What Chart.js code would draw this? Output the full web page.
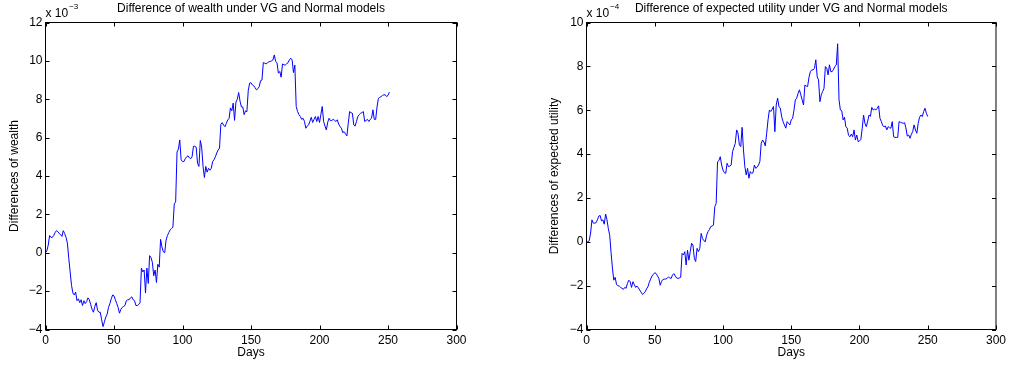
<!DOCTYPE html>
<html>
<head>
<meta charset="utf-8">
<script src="https://cdn.jsdelivr.net/npm/chart.js@4.4.1/dist/chart.umd.min.js"></script>
<style>
  body { margin: 0; background: #fff; }
  #wrap { position: relative; width: 1010px; height: 365px; }
  .pane { position: absolute; top: 0; width: 505px; height: 365px; }
</style>
</head>
<body>
<div id="wrap">
  <div class="pane" style="left:0"><canvas id="wealthChart" width="505" height="365"></canvas></div>
  <div class="pane" style="left:505px"><canvas id="utilityChart" width="505" height="365"></canvas></div>
</div>
<script>
// values, in units of the axis multiplier (x 10^-3 and x 10^-4)
const wealthDiff = [
  0, 0.1, 0.4, 0.9, 0.8, 0.8, 0.9, 1.05, 1.15, 1.1,
  1.0, 0.95, 0.85, 1.15, 1.0, 0.8, 0.5, -0.3, -1.0, -1.7,
  -2.1, -2.2, -2.05, -2.5, -2.4, -2.6, -2.45, -2.75, -2.5, -2.65,
  -2.55, -2.35, -2.45, -2.7, -2.95, -3.1, -2.8, -2.6, -3.0, -3.1,
  -3.1, -3.5, -3.85, -3.6, -3.35, -3.2, -2.85, -2.65, -2.4, -2.2,
  -2.25, -2.45, -2.65, -2.85, -3.15, -2.95, -2.85, -2.8, -2.75, -2.5,
  -2.45, -2.45, -2.35, -2.3, -2.45, -2.5, -2.75, -2.75, -2.7, -2.6,
  -0.8, -1.0, -0.9, -2.1, -0.8, -1.6, -0.15, -0.25, -0.5, -1.2,
  -0.9, -1.55, -0.6, -0.75, 0.7, 0.3, 0.05, 0.0, 0.65, 0.9,
  1.05, 1.2, 1.27, 1.33, 2.55, 2.65, 5.25, 5.4, 5.88, 4.85,
  4.75, 4.75, 4.9, 5.0, 5.05, 4.95, 4.9, 5.0, 5.55, 5.55,
  5.5, 4.65, 4.5, 5.85, 5.5, 4.5, 3.92, 4.5, 4.2, 4.4,
  4.3, 4.4, 4.75, 4.85, 5.0, 5.2, 5.35, 5.45, 6.7, 6.78,
  6.65, 6.57, 6.75, 6.92, 7.0, 7.55, 7.4, 7.8, 6.9, 7.85,
  8.0, 8.35, 7.9, 7.6, 7.6, 7.2, 7.4, 7.35, 8.45, 8.84,
  8.86, 8.75, 8.7, 8.6, 8.49, 8.55, 8.66, 8.97, 9.0, 9.91,
  9.88, 9.84, 9.9, 9.95, 9.97, 10.0, 10.05, 10.31, 9.97, 9.9,
  9.36, 9.45, 9.15, 9.84, 9.8, 9.78, 9.85, 9.9, 10.05, 10.14,
  10.05, 9.39, 9.78, 7.62, 7.36, 7.2, 7.1, 6.95, 7.01, 6.85,
  6.49, 6.6, 6.66, 6.85, 7.06, 6.79, 6.95, 7.1, 6.84, 7.1,
  6.79, 7.2, 7.62, 6.84, 6.6, 6.4, 6.8, 7.01, 6.88, 6.9,
  6.95, 6.9, 6.84, 6.93, 6.7, 6.58, 6.49, 6.26, 6.31, 6.2,
  6.09, 6.75, 7.36, 7.3, 7.27, 6.66, 6.6, 6.85, 7.1, 7.2,
  7.27, 7.3, 7.36, 6.84, 6.9, 6.95, 6.84, 6.95, 7.01, 7.45,
  6.95, 6.95, 7.6, 8.05, 8.1, 8.14, 8.2, 8.23, 8.23, 8.14,
  8.2, 8.37
];

const utilityDiff = [
  0, 0, 0.05, 0.4, 1.0, 0.85, 0.85, 0.87, 1.0, 1.17,
  1.2, 0.95, 1.0, 0.8, 1.26, 1.0, 0.6, 0.3, -0.5, -1.2,
  -1.75, -1.62, -1.95, -2.0, -2.02, -2.08, -2.12, -2.17, -2.08, -2.12,
  -1.9, -1.75, -1.82, -2.08, -1.82, -1.95, -2.08, -2.02, -2.1, -2.2,
  -2.3, -2.4, -2.35, -2.28, -2.15, -2.05, -1.85, -1.7, -1.56, -1.48,
  -1.41, -1.45, -1.55, -1.67, -1.98, -1.8, -1.72, -1.7, -1.7, -1.67,
  -1.6, -1.65, -1.67, -1.52, -1.45, -1.55, -1.65, -1.67, -1.65, -1.62,
  -0.53, -0.6, -0.45, -1.06, -0.38, -0.84, -0.45, -0.07, -0.15, -0.75,
  -0.9, -0.3, -0.45, -0.3, 0.38, 0.15, 0.05, 0.0, 0.3, 0.46,
  0.55, 0.69, 0.72, 0.76, 1.6, 1.75, 3.65, 3.7, 3.88, 3.5,
  3.27, 3.15, 3.12, 3.58, 3.43, 3.45, 3.5, 4.11, 4.3, 4.49,
  5.1, 4.95, 4.42, 4.34, 5.22, 4.19, 3.43, 3.05, 3.35, 2.9,
  3.2, 3.12, 3.15, 3.5, 3.35, 3.4, 3.5, 3.65, 4.49, 4.64,
  4.55, 4.37, 4.95, 5.56, 6.01, 5.94, 6.05, 6.17, 5.02, 6.24,
  6.55, 6.17, 6.09, 5.7, 5.48, 5.33, 5.18, 5.48, 5.4, 5.33,
  5.56, 5.63, 6.0, 6.47, 6.55, 6.77, 6.93, 6.7, 6.47, 6.24,
  7.15, 7.1, 7.08, 7.5, 7.76, 7.84, 7.84, 7.9, 8.3, 7.53,
  7.38, 6.39, 6.7, 6.85, 7.0, 7.99, 7.92, 7.61, 8.07, 7.76,
  7.76, 7.86, 8.0, 8.06, 9.03, 6.47, 6.01, 5.98, 5.56, 5.68,
  5.25, 5.18, 4.85, 4.79, 4.91, 4.79, 5.1, 4.64, 4.87, 4.57,
  4.6, 4.67, 5.18, 5.78, 5.4, 5.25, 5.5, 5.78, 5.72, 6.13,
  6.01, 6.05, 6.01, 6.09, 6.2, 5.63, 5.48, 5.3, 5.25, 5.28,
  5.1, 5.25, 5.2, 5.18, 5.48, 4.79, 4.76, 4.76, 4.76, 5.48,
  5.45, 5.43, 5.4, 5.43, 5.2, 4.82, 4.87, 4.72, 4.9, 5.03,
  5.33, 5.1, 4.95, 5.4, 5.68, 5.78, 5.71, 5.94, 6.09, 5.86,
  5.71
];

// axis ranges / tick steps
const dayTicks = { min: 0, max: 300, step: 50 };
const wealthTicks = { min: -4, max: 12, step: 2 };
const utilityTicks = { min: -4, max: 10, step: 2 };

const FONT = '"Liberation Sans", Arial, Helvetica, sans-serif';

// matlab look: black box, inward ticks on all four sides, title and the "x 10^n" multiplier
const matlabFrame = {
  id: 'matlabFrame',
  afterDraw(chart, args, opts) {
    const { ctx, chartArea: a, scales: { x, y } } = chart;
    ctx.save();
    ctx.strokeStyle = '#000';
    ctx.lineWidth = 1;
    ctx.beginPath();
    x.ticks.forEach(t => {
      const px = Math.round(x.getPixelForValue(t.value)) + 0.5;
      ctx.moveTo(px, a.bottom); ctx.lineTo(px, a.bottom - 4);
      ctx.moveTo(px, a.top); ctx.lineTo(px, a.top + 4);
    });
    y.ticks.forEach(t => {
      const py = Math.round(y.getPixelForValue(t.value)) + 0.5;
      ctx.moveTo(a.left, py); ctx.lineTo(a.left + 4, py);
      ctx.moveTo(a.right, py); ctx.lineTo(a.right - 4, py);
    });
    ctx.stroke();
    ctx.strokeRect(a.left, a.top, a.right - a.left, a.bottom - a.top);

    ctx.fillStyle = '#000';
    ctx.font = '12px ' + FONT;
    ctx.textAlign = 'center';
    ctx.textBaseline = 'middle';
    ctx.fillText(opts.title, (a.left + a.right) / 2, 9);

    ctx.textAlign = 'left';
    ctx.textBaseline = 'alphabetic';
    ctx.fillText('x 10', a.left, 17);
    const w = ctx.measureText('x 10').width;
    ctx.font = '8px ' + FONT;
    ctx.fillText(opts.exponent, a.left + w + 1, 9);
    ctx.restore();
  }
};

function minus(v) {
  return String(v).replace('-', '\u2212');
}

function makeChart(id, values, yRange, yTitle, title, exponent, frame) {
  return new Chart(id, {
    type: 'line',
    data: {
      datasets: [{
        data: values.map((v, i) => ({ x: i, y: v })),
        borderColor: '#0000ff',
        borderWidth: 1,
        pointRadius: 0,
        tension: 0,
        fill: false
      }]
    },
    options: {
      responsive: false,
      animation: false,
      layout: { padding: { top: frame.top, right: frame.right, bottom: 0, left: 0 } },
      plugins: {
        legend: { display: false },
        tooltip: { enabled: false },
        matlabFrame: { title: title, exponent: exponent }
      },
      scales: {
        x: {
          type: 'linear',
          min: dayTicks.min,
          max: dayTicks.max,
          grid: { display: false, drawTicks: false },
          border: { display: false },
          ticks: { stepSize: dayTicks.step, padding: 4, color: '#000', font: { size: 12, family: FONT }, maxRotation: 0 },
          title: { display: true, text: 'Days', color: '#000', font: { size: 12, family: FONT }, padding: { top: 0, bottom: 4.8 } },
          afterFit: s => { s.height = frame.xHeight; }
        },
        y: {
          min: yRange.min,
          max: yRange.max,
          grid: { display: false, drawTicks: false },
          border: { display: false },
          ticks: { stepSize: yRange.step, padding: 3, color: '#000', font: { size: 12, family: FONT }, callback: minus },
          title: { display: true, text: yTitle, color: '#000', font: { size: 12, family: FONT }, padding: { top: frame.yTitlePad, bottom: 0 } },
          afterFit: s => { s.width = frame.yWidth; }
        }
      }
    },
    plugins: [matlabFrame]
  });
}

makeChart('wealthChart', wealthDiff, wealthTicks, 'Differences of wealth',
  'Difference of wealth under VG and Normal models', '\u22123',
  { top: 22.5, right: 48.5, xHeight: 35.5, yWidth: 45.5, yTitlePad: 7.8 });

makeChart('utilityChart', utilityDiff, utilityTicks, 'Differences of expected utility',
  'Difference of expected utility under VG and Normal models', '\u22124',
  { top: 22.5, right: 13.5, xHeight: 35.5, yWidth: 81.5, yTitlePad: 42.8 });
</script>
</body>
</html>
